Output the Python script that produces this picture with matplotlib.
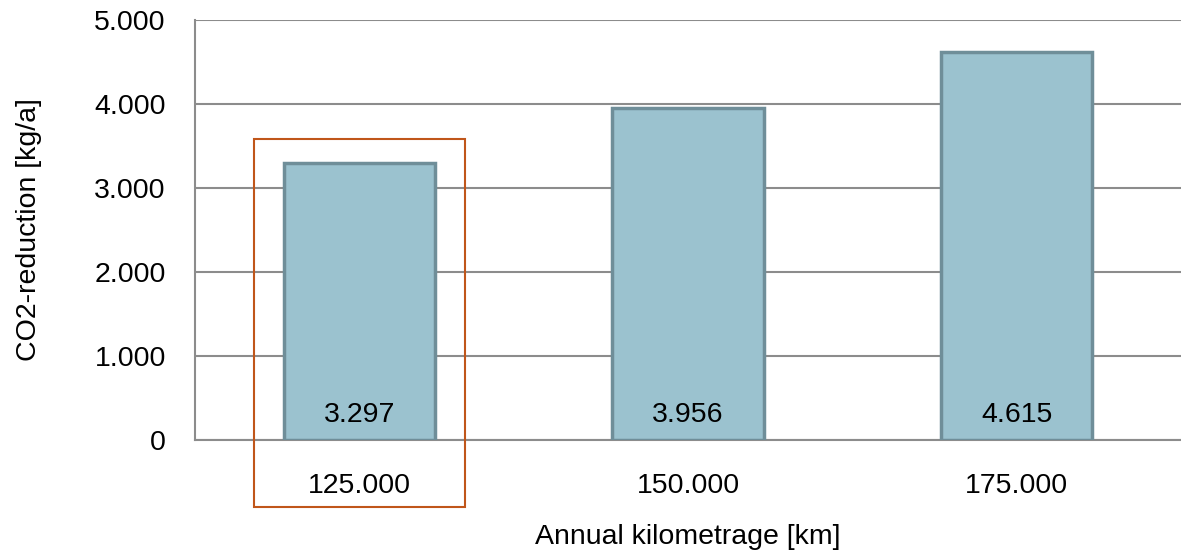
import matplotlib.pyplot as plt
from matplotlib.patches import Rectangle
from matplotlib.ticker import FuncFormatter

# Annual kilometrage and the resulting CO2 reduction
km_labels = ["125.000", "150.000", "175.000"]
co2_reduction = [3297, 3956, 4615]
value_labels = ["3.297", "3.956", "4.615"]
y_ticks = [0, 1000, 2000, 3000, 4000, 5000]

plt.rcParams["font.family"] = ["Liberation Sans", "DejaVu Sans"]
FS = 20.5

fig = plt.figure(figsize=(11.81, 5.53), dpi=100)
ax = fig.add_axes([195 / 1181, 1 - 440 / 553, 1 - 195 / 1181, 420 / 553])

x = list(range(len(km_labels)))
ax.bar(x, co2_reduction, width=0.46, color="#9BC2CF", edgecolor="#6F8E99",
       linewidth=2.5, zorder=3)

# value labels sit near the foot of each bar
for xi, txt in zip(x, value_labels):
    ax.text(xi, 295, txt, ha="center", va="center", fontsize=FS, zorder=4)

ax.set_xlim(-0.5, 2.5)
ax.set_ylim(0, 5000)
ax.set_yticks(y_ticks)
ax.yaxis.set_major_formatter(FuncFormatter(lambda v, p: f"{int(v):,}".replace(",", ".")))
ax.set_xticks(x)
ax.set_xticklabels(km_labels)
ax.tick_params(axis="both", length=0, labelsize=FS)
ax.tick_params(axis="x", pad=24)
ax.tick_params(axis="y", pad=21)

ax.grid(axis="y", color="#8C8C8C", linewidth=1.5, zorder=0)
for side in ["top", "right"]:
    ax.spines[side].set_visible(False)
ax.spines["left"].set_color("#8C8C8C")
ax.spines["left"].set_linewidth(1.5)
ax.spines["bottom"].set_color("#8C8C8C")
ax.spines["bottom"].set_linewidth(1.5)

# frame around the first category
ax.add_patch(Rectangle((-0.322, -800), 0.644, 4383, fill=False,
                       edgecolor="#C0561A", linewidth=1.5, clip_on=False, zorder=5))

ax.set_ylabel("CO2-reduction [kg/a]", fontsize=FS, labelpad=38)
ax.set_xlabel("Annual kilometrage [km]", fontsize=FS, labelpad=18)

fig.savefig("out.png", dpi=100)
